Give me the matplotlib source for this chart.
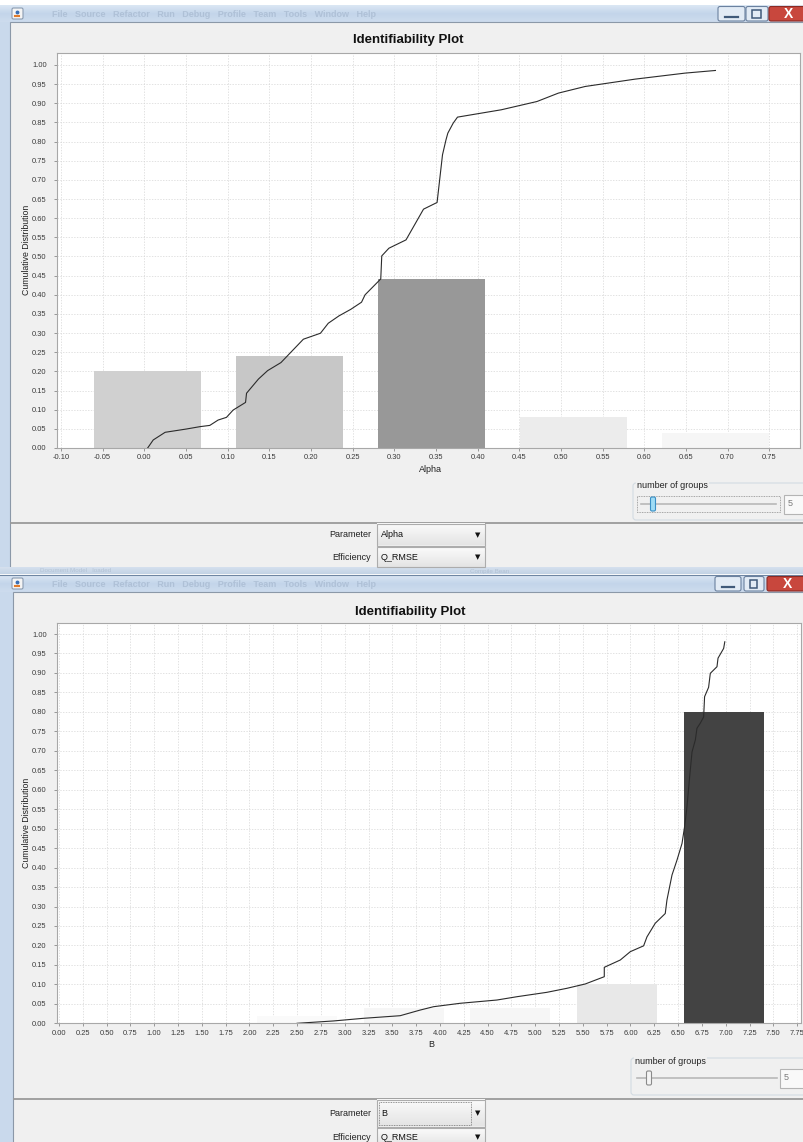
import numpy as np
import matplotlib
matplotlib.use("Agg")
import matplotlib.pyplot as plt
from matplotlib.patches import Rectangle, FancyBboxPatch
from matplotlib.colors import LinearSegmentedColormap

W, H = 804, 1142
PANEL, EDGE = "#f0f0f0", "#a0a0a0"
plt.rcParams["font.family"] = ["Liberation Sans", "DejaVu Sans"]

# ── Alpha: grouped shares and cumulative distribution ─────────────────────────
alpha_centers = [0.004, 0.174, 0.345, 0.515, 0.6855]
alpha_share = [0.20, 0.24, 0.44, 0.08, 0.04]
alpha_x = [0.004, 0.0107, 0.025, 0.0506, 0.0667, 0.0786, 0.0886, 0.0986, 0.1066,
           0.1215, 0.1227, 0.137, 0.148, 0.164, 0.1909, 0.2114, 0.2208, 0.2337,
           0.2478, 0.2607, 0.265, 0.28, 0.2838, 0.285, 0.2936, 0.3141, 0.3351,
           0.3514, 0.3579, 0.3621, 0.3643, 0.3707, 0.3759, 0.4285, 0.4713, 0.497,
           0.5291, 0.5891, 0.649, 0.6855]
alpha_cdf = [0.0, 0.021, 0.041, 0.0496, 0.0557, 0.059, 0.073, 0.080, 0.099,
             0.119, 0.143, 0.18, 0.202, 0.223, 0.284, 0.2996, 0.3257, 0.345,
             0.362, 0.3806, 0.40, 0.433, 0.4415, 0.5015, 0.5216, 0.5433, 0.6235,
             0.641, 0.7654, 0.8046, 0.822, 0.848, 0.8638, 0.883, 0.9046, 0.9265,
             0.9438, 0.963, 0.9787, 0.9856]
alpha_ticks = np.round(np.arange(-0.10, 0.751, 0.05), 2)

# ── B: grouped shares and cumulative distribution ─────────────────────────────
b_centers = [2.50, 3.62, 4.74, 5.86, 6.98]
b_share = [0.02, 0.04, 0.04, 0.10, 0.80]
b_x = [2.50, 2.881, 3.196, 3.582, 3.792, 3.932, 4.212, 4.598, 4.808, 5.123,
       5.333, 5.525, 5.725, 5.725, 5.893, 5.998, 6.138, 6.173, 6.26, 6.365,
       6.383, 6.436, 6.488, 6.541, 6.568, 6.593, 6.618, 6.646, 6.681, 6.698,
       6.733, 6.768, 6.778, 6.82, 6.838, 6.908, 6.919, 6.978, 6.99]
b_cdf = [0.0, 0.006, 0.0128, 0.0195, 0.034, 0.0426, 0.0514, 0.0598, 0.0683,
         0.0796, 0.0899, 0.101, 0.1197, 0.1438, 0.1626, 0.184, 0.199, 0.222,
         0.257, 0.282, 0.317, 0.381, 0.419, 0.462, 0.505, 0.556, 0.625, 0.697,
         0.728, 0.758, 0.771, 0.787, 0.839, 0.863, 0.899, 0.916, 0.938, 0.963,
         0.98]
b_ticks = np.round(np.arange(0.0, 7.751, 0.25), 2)
y_ticks = np.round(np.arange(0.0, 1.001, 0.05), 2)

fig = plt.figure(figsize=(W / 100, H / 100), dpi=100, facecolor="white")
bg = fig.add_axes([0, 0, 1, 1])
bg.axis("off")


def box(x0, y0, x1, y1, fc, ec="none", lw=0.8, z=1, ls="-"):
    bg.add_patch(Rectangle((x0, y0), x1 - x0, y1 - y0, facecolor=fc,
                           edgecolor=ec, lw=lw, zorder=z, linestyle=ls))


def rbox(x0, y0, x1, y1, fc, ec, lw=0.8, z=2, r=2):
    bg.add_patch(FancyBboxPatch((x0, y0), x1 - x0, y1 - y0,
                                boxstyle=f"round,pad=0,rounding_size={r}",
                                facecolor=fc, edgecolor=ec, lw=lw, zorder=z))


def vgrad(x0, y0, x1, y1, colors, z=1):
    cm = LinearSegmentedColormap.from_list("g", colors)
    g = np.linspace(0, 1, 64).reshape(-1, 1)
    bg.imshow(g, cmap=cm, extent=(x0, x1, y1, y0), aspect="auto",
              zorder=z, interpolation="bilinear")


def title_bar(top, bot, btn):
    vgrad(0, top, W, bot, ["#dce7f4", "#c3d5ea", "#cddcee"])
    bg.text(52, (top + bot) / 2 + 1,
            "File   Source   Refactor   Run   Debug   Profile   Team   Tools   Window   Help",
            fontsize=6.5, color="#8699b2", alpha=0.35, fontweight="bold",
            va="center", zorder=3)
    # java icon
    rbox(12, top + 3, 23, bot - 3, "#f4f4f4", "#8a9bb0", r=1.5, z=3)
    bg.plot([15.5, 19.5], [bot - 6, bot - 6], color="#e07a2a", lw=1.5, zorder=4)
    bg.plot([17.5], [top + 6.5], "o", ms=1.8, color="#3a6fb5", zorder=4)
    (m0, m1), (x0, x1), (c0, c1) = btn
    rbox(m0, top + 1.5, m1, bot - 1, "#e2ebf5", "#6b819f", z=3)
    bg.plot([m0 + 7, m1 - 7], [bot - 5, bot - 5], color="#405a7a", lw=1.6, zorder=4)
    rbox(x0, top + 1.5, x1, bot - 1, "#e2ebf5", "#6b819f", z=3)
    box(x0 + 6.5, top + 5, x1 - 6.5, bot - 4.5, "none", "#405a7a", lw=1.1, z=4)
    rbox(c0, top + 1.5, c1 + 4, bot - 1, "#c8473d", "#8b2a24", z=3)
    bg.text((c0 + c1) / 2 + 2, (top + bot) / 2 + 1, "X", color="white",
            fontsize=10, fontweight="bold", ha="center", va="center", zorder=4)


def combo(x0, y0, x1, y1, label, value, focus=False):
    vgrad(x0, y0, x1, y1, ["#fbfbfb", "#e4e4e4"], z=2)
    box(x0, y0, x1, y1, "none", "#acacac", lw=0.8, z=3)
    if focus:
        box(x0 + 2, y0 + 2, x1 - 14, y1 - 2, "none", "#707070", lw=0.6, z=3, ls=(0, (1, 1)))
    cy = (y0 + y1) / 2
    bg.text(x0 + 4, cy, value, fontsize=6.5, va="center", color="#111", zorder=4)
    bg.text(x1 - 7, cy, "\u25bc", fontsize=5, va="center", ha="center",
            color="#111", zorder=4, family="DejaVu Sans")
    bg.text(x0 - 6, cy, label, fontsize=6.5, va="center", ha="right",
            color="#222", zorder=4)


def slider(gx0, gy0, gy1, tx0, tx1, ty, thumb, field, active):
    rbox(gx0, gy0, W + 5, gy1, "none", "#d3dbe2", r=3)
    bg.text(gx0 + 4, gy0 + 3, "number of groups", fontsize=6.5, va="center",
            color="#222", zorder=4,
            bbox=dict(facecolor=PANEL, edgecolor="none", pad=0.5))
    if active:
        box(tx0 - 4, ty - 8, tx1 + 4, ty + 8, "none", "#8c8c8c", lw=0.6, z=3, ls=(0, (1, 1)))
    bg.plot([tx0, tx1], [ty, ty], color="#b8b8b8", lw=1.2, zorder=3)
    fc, ec = ("#9fdcf5", "#3a8fc5") if active else ("#f4f4f4", "#8a8a8a")
    rbox(thumb - 2.5, ty - 7, thumb + 2.5, ty + 7, fc, ec, lw=0.8, z=4, r=1.5)
    f0, f1 = field
    box(f0, ty - 9.5, f1 + 5, ty + 9.5, "#f9f9f9", "#b4b4b4", z=3)
    bg.text(f0 + 4, ty, "5", fontsize=6.5, va="center", color="#7a7a7a", zorder=4)


def chart(l, t, r, b, xlim, ylim, xticks, centers, share, width, cx, cy, xlabel):
    ax = fig.add_axes([l / W, 1 - b / H, (r - l) / W, (b - t) / H])
    ax.set_facecolor("white")
    ax.set_axisbelow(True)
    ax.grid(True, color="#d6d6d6", lw=0.5, linestyle=(0, (2, 2)))
    shades = [str(round(1 - 0.92 * s, 3)) for s in share]
    ax.bar(centers, share, width=width, color=shades, edgecolor="none", zorder=2)
    ax.plot(cx, cy, color="#2b2b2b", lw=0.8, zorder=3)
    ax.set_xlim(*xlim)
    ax.set_ylim(*ylim)
    ax.set_xticks(xticks)
    ax.set_yticks(y_ticks)
    ax.xaxis.set_major_formatter(matplotlib.ticker.FormatStrFormatter("%.2f"))
    ax.yaxis.set_major_formatter(matplotlib.ticker.FormatStrFormatter("%.2f"))
    ax.tick_params(length=2, width=0.6, color="#8a8a8a", labelsize=5.4,
                   labelcolor="#3a3a3a")
    ax.tick_params(axis="y", pad=5.5)
    ax.tick_params(axis="x", pad=2.5)
    for s in ax.spines.values():
        s.set_color("#a8a8a8")
        s.set_linewidth(0.8)
    bg.text((l + r) / 2 + 2, b + 21, xlabel, fontsize=6.5, ha="center",
            va="center", color="#222", zorder=4)
    bg.text(27, (t + b) / 2, "Cumulative Distribution", fontsize=6.3,
            rotation=90, ha="center", va="center", color="#222", zorder=4)
    return ax


# ── top window (Alpha) ─────────────────────────────────────────────────────────
title_bar(5, 22, ((718, 745), (746, 768), (769, 804)))
box(0, 22, 10.5, 568, "#c9d9ec", "none")
box(10.5, 22, W + 2, 567.5, PANEL, "#8b98a8", lw=0.8)
bg.plot([11, W], [522.8, 522.8], color="#9a9a9a", lw=1.3, zorder=2)
bg.text(408, 40, "Identifiability Plot", fontsize=9.5, fontweight="bold",
        ha="center", va="center", color="#111", zorder=4)
slider(633, 483, 520, 641, 776, 504, 653, (784, 804), True)
combo(377, 524, 485, 545.5, "Parameter", "Alpha")
combo(377, 547, 485, 567, "Efficiency", "Q_RMSE")

# strip of the window behind
vgrad(0, 567.5, W, 574.5, ["#d6e1ee", "#c2d2e5"], z=1)
bg.text(40, 571, "Document Model   loaded", fontsize=4.5, color="#8ea0b5",
        alpha=0.4, va="center", zorder=2)
bg.text(470, 571, "Compile Bean", fontsize=4.5, color="#8ea0b5",
        alpha=0.4, va="center", zorder=2)
bg.plot([0, W], [574.5, 574.5], color="#6f86a3", lw=0.8, zorder=2)

# ── bottom window (B) ──────────────────────────────────────────────────────────
title_bar(575, 592, ((715, 741), (744, 764), (767, 804)))
box(0, 592, 13.5, H + 2, "#c9d9ec", "none")
box(13.5, 592, W + 2, H + 2, PANEL, "#8b98a8", lw=0.8)
bg.plot([14, W], [1099, 1099], color="#9a9a9a", lw=1.3, zorder=2)
bg.text(410, 612, "Identifiability Plot", fontsize=9.5, fontweight="bold",
        ha="center", va="center", color="#111", zorder=4)
slider(631, 1058, 1095, 637, 777, 1078, 649, (780, 804), False)
combo(377, 1100, 485, 1126.5, "Parameter", "B", focus=True)
combo(377, 1128, 485, 1146, "Efficiency", "Q_RMSE")

bg.set_xlim(0, W)
bg.set_ylim(H, 0)

chart(57, 52.7, 800, 448, (-0.1048, 0.787), (0, 1.032), alpha_ticks,
      alpha_centers, alpha_share, 0.128, alpha_x, alpha_cdf, "Alpha")
chart(57, 623.3, 801, 1023.3, (-0.02, 7.79), (0, 1.0275), b_ticks,
      b_centers, b_share, 0.84, b_x, b_cdf, "B")

fig.savefig("out.png", dpi=100, facecolor="white")
